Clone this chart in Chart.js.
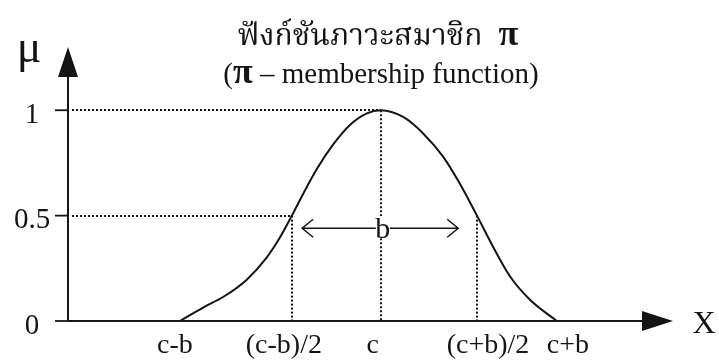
<!DOCTYPE html>
<html>
<head>
<meta charset="utf-8">
<script src="https://cdn.jsdelivr.net/npm/chart.js@4/dist/chart.umd.min.js"></script>
<style>
  html, body { margin: 0; padding: 0; background: #fff; }
  #wrap { width: 719px; height: 361px; }
</style>
</head>
<body>
<div id="wrap"><canvas id="pi-chart"></canvas></div>
<script>
// curve (x in arbitrary units along the axis, y = membership)
const curveX = [18.5, 22.4, 25.7, 29.5, 32.8, 35.0, 37.0, 38.9, 41.1, 43.9, 46.6, 49.4, 51.7,
                55.4, 58.7, 62.0, 64.8, 67.6, 70.3, 73.1, 76.4, 80.8];
const curveY = [0, 0.065, 0.115, 0.195, 0.300, 0.395, 0.50, 0.605, 0.72, 0.84, 0.93, 0.985, 1.0,
                0.968, 0.89, 0.78, 0.65, 0.50, 0.35, 0.21, 0.10, 0];

const xTickValues = [18.5, 37.0, 51.7, 67.6, 80.8];
const xTickLabels = ['c-b', '(c-b)/2', 'c', '(c+b)/2', 'c+b'];
const yTickValues = [0, 0.5, 1];
const yTickLabels = ['0', '0.5', '1'];

// dotted guide lines: [x, y] of the point on the curve they run to
const guidePoints = [[37.0, 0.5], [51.7, 1.0], [67.6, 0.5]];
const spanArrow = { from: 38.7, to: 64.5, y: 0.44, label: 'b' };

const titleThai = 'ฟังก์ชันภาวะสมาชิก';
const subtitleText = ' – membership function)';

const SERIF = '"Liberation Serif", "DejaVu Serif", serif';
const THAI = '"Norasi", "Noto Serif Thai", "Liberation Serif", serif';
const INK = '#141414';

// hand-set label shifts (px), as in the drawing
const labelShift = [-5, -8, -8, 11, 11];

const piDiagram = {
    id: 'piDiagram',
    beforeDatasetsDraw(chart) {
        const { ctx, scales: { x, y } } = chart;
        const snap = v => Math.round(v);
        ctx.save();
        ctx.strokeStyle = INK;
        ctx.lineWidth = 2;
        ctx.setLineDash([2, 2]);
        // horizontal guides from the axis
        [[37.0, 0.5], [51.7, 1.0]].forEach(([gx, gy]) => {
            ctx.beginPath();
            ctx.moveTo(x.getPixelForValue(0) + 4, snap(y.getPixelForValue(gy)));
            ctx.lineTo(x.getPixelForValue(gx), snap(y.getPixelForValue(gy)));
            ctx.stroke();
        });
        // vertical guides down to the axis
        guidePoints.forEach(([gx, gy]) => {
            ctx.beginPath();
            ctx.moveTo(snap(x.getPixelForValue(gx)), y.getPixelForValue(gy));
            ctx.lineTo(snap(x.getPixelForValue(gx)), y.getPixelForValue(0));
            ctx.stroke();
        });
        ctx.restore();
    },
    afterDraw(chart) {
        const { ctx, chartArea, scales: { x, y } } = chart;
        const x0 = x.getPixelForValue(0);
        const y0 = y.getPixelForValue(0);
        ctx.save();
        ctx.strokeStyle = INK;
        ctx.fillStyle = INK;
        ctx.lineWidth = 2;

        // axes with filled arrow heads
        ctx.beginPath();
        ctx.moveTo(x0, y0);
        ctx.lineTo(x0, chartArea.top + 20);
        ctx.moveTo(x0, y0);
        ctx.lineTo(chartArea.right - 20, y0);
        ctx.stroke();
        ctx.beginPath();
        ctx.moveTo(x0, chartArea.top);
        ctx.lineTo(x0 - 10, chartArea.top + 30);
        ctx.lineTo(x0 + 10, chartArea.top + 30);
        ctx.closePath();
        ctx.fill();
        ctx.beginPath();
        ctx.moveTo(chartArea.right, y0);
        ctx.lineTo(chartArea.right - 31, y0 - 10);
        ctx.lineTo(chartArea.right - 31, y0 + 10);
        ctx.closePath();
        ctx.fill();

        // y ticks and labels
        ctx.lineWidth = 1.8;
        ctx.font = '29px ' + SERIF;
        ctx.textAlign = 'center';
        ctx.textBaseline = 'middle';
        yTickValues.forEach((v, i) => {
            const py = y.getPixelForValue(v);
            ctx.beginPath();
            ctx.moveTo(x0 - 13, py);
            ctx.lineTo(x0, py);
            ctx.stroke();
            ctx.fillText(yTickLabels[i], 32, py + 5);
        });

        // x labels
        ctx.font = '28px ' + SERIF;
        ctx.textBaseline = 'alphabetic';
        xTickValues.forEach((v, i) => {
            ctx.fillText(xTickLabels[i], x.getPixelForValue(v) + labelShift[i], y0 + 32);
        });

        // axis names
        ctx.font = '46px ' + SERIF;
        ctx.fillText('μ', 29, 62);
        ctx.font = '32px ' + SERIF;
        ctx.fillText('X', 704, y0 + 12);

        // "b" span arrow
        const ay = y.getPixelForValue(spanArrow.y);
        const ax1 = x.getPixelForValue(spanArrow.from);
        const ax2 = x.getPixelForValue(spanArrow.to);
        ctx.lineWidth = 1.5;
        ctx.beginPath();
        ctx.moveTo(ax1, ay);
        ctx.lineTo(ax2, ay);
        ctx.moveTo(ax1 + 11, ay - 9);
        ctx.lineTo(ax1, ay);
        ctx.lineTo(ax1 + 11, ay + 9);
        ctx.moveTo(ax2 - 11, ay - 9);
        ctx.lineTo(ax2, ay);
        ctx.lineTo(ax2 - 11, ay + 9);
        ctx.stroke();
        const bx = x.getPixelForValue(51.7) + 2;
        ctx.fillStyle = '#fff';
        ctx.fillRect(bx - 7, ay - 12, 14, 22);
        ctx.fillStyle = INK;
        ctx.font = '30px ' + SERIF;
        ctx.textBaseline = 'middle';
        ctx.fillText(spanArrow.label, bx, ay + 2);

        // titles
        ctx.textBaseline = 'alphabetic';
        ctx.textAlign = 'left';
        ctx.font = '30px ' + THAI;
        const tw = ctx.measureText(titleThai).width;
        ctx.font = 'bold 36px ' + SERIF;
        const piw = ctx.measureText('π').width;
        const tx = 378 - (tw + 16 + piw) / 2;
        ctx.font = '30px ' + THAI;
        ctx.fillText(titleThai, tx, 45);
        ctx.font = 'bold 36px ' + SERIF;
        ctx.fillText('π', tx + tw + 16, 45);

        ctx.font = '29px ' + SERIF;
        const pw = ctx.measureText('(').width;
        const sw = ctx.measureText(subtitleText).width;
        ctx.font = 'bold 36px ' + SERIF;
        const pi2 = ctx.measureText('π').width;
        const sx = 381 - (pw + pi2 + sw) / 2;
        ctx.font = '29px ' + SERIF;
        ctx.fillText('(', sx, 83);
        ctx.font = 'bold 36px ' + SERIF;
        ctx.fillText('π', sx + pw, 83);
        ctx.font = '29px ' + SERIF;
        ctx.fillText(subtitleText, sx + pw + pi2, 83);
        ctx.restore();
    }
};

new Chart(document.getElementById('pi-chart'), {
    type: 'scatter',
    data: {
        datasets: [{
            data: curveX.map((v, i) => ({ x: v, y: curveY[i] })),
            showLine: true,
            borderColor: INK,
            borderWidth: 2,
            pointRadius: 0,
            cubicInterpolationMode: 'monotone',
            fill: false
        }]
    },
    options: {
        responsive: true,
        maintainAspectRatio: false,
        animation: false,
        layout: { padding: { left: 68, right: 46, top: 47, bottom: 40 } },
        plugins: { legend: { display: false }, tooltip: { enabled: false }, title: { display: false } },
        scales: {
            x: { type: 'linear', min: 0, max: 100, display: false },
            y: { type: 'linear', min: 0, max: 1.30, display: false }
        }
    },
    plugins: [piDiagram]
});
</script>
</body>
</html>
